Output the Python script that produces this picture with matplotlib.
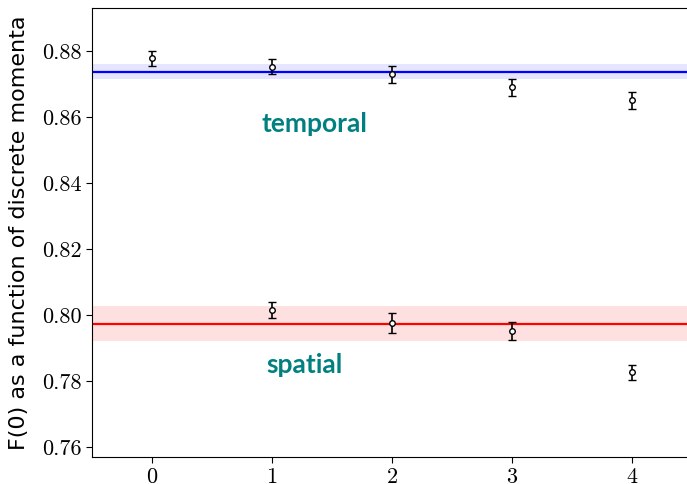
import matplotlib
matplotlib.use("Agg")
from matplotlib import pyplot as plt
from matplotlib.ticker import FormatStrFormatter

# discrete momenta index
momenta = [0, 1, 2, 3, 4]

# temporal results
temporal_f0 = [0.8778, 0.8752, 0.8729, 0.8690, 0.8651]
temporal_err = [0.0023, 0.0023, 0.0026, 0.0026, 0.0026]
temporal_fit = 0.8737
temporal_fit_err = 0.0023

# spatial results (no point at 0)
spatial_x = [1, 2, 3, 4]
spatial_f0 = [0.8016, 0.7975, 0.7951, 0.7826]
spatial_err = [0.0024, 0.0030, 0.0027, 0.0023]
spatial_fit = 0.7974
spatial_fit_err = 0.0054

fig = plt.figure(figsize=(6.87, 4.84), dpi=100)
# axes reaches past the right edge of the figure, like the original
ax = fig.add_axes([92/687, 27/484, 600/687, 449/484])

ax.axhspan(temporal_fit - temporal_fit_err, temporal_fit + temporal_fit_err,
           color='blue', alpha=0.1, lw=0)
ax.axhline(temporal_fit, color='blue', lw=1.6)
ax.axhspan(spatial_fit - spatial_fit_err, spatial_fit + spatial_fit_err,
           color='red', alpha=0.12, lw=0)
ax.axhline(spatial_fit, color='red', lw=1.6)

for xs, ys, es in [(momenta, temporal_f0, temporal_err),
                   (spatial_x, spatial_f0, spatial_err)]:
    ax.errorbar(xs, ys, yerr=es, fmt='o', color='black', mfc='white',
                ms=4, mew=1.0, elinewidth=1.2, capsize=3, capthick=1.2)

ax.text(0.91, 0.8578, 'temporal', color='teal', fontsize=19,
        fontweight='bold', family='Lato', va='center', ha='left')
ax.text(0.95, 0.7848, 'spatial', color='teal', fontsize=19,
        fontweight='bold', family='Lato', va='center', ha='left')

ax.set_xlim(-0.5, 4.5)
ax.set_ylim(0.757, 0.893)
ax.set_xticks(momenta)
ax.set_yticks([0.76, 0.78, 0.80, 0.82, 0.84, 0.86, 0.88])
ax.yaxis.set_major_formatter(FormatStrFormatter('%.2f'))
ax.tick_params(labelsize=16, length=4)
for lbl in ax.get_xticklabels() + ax.get_yticklabels():
    lbl.set_fontfamily('cmr10')

ax.set_ylabel('F(0) as a function of discrete momenta', fontsize=16)
ax.yaxis.set_label_coords(-0.105, 0.5)

fig.savefig('out.png', dpi=100)
